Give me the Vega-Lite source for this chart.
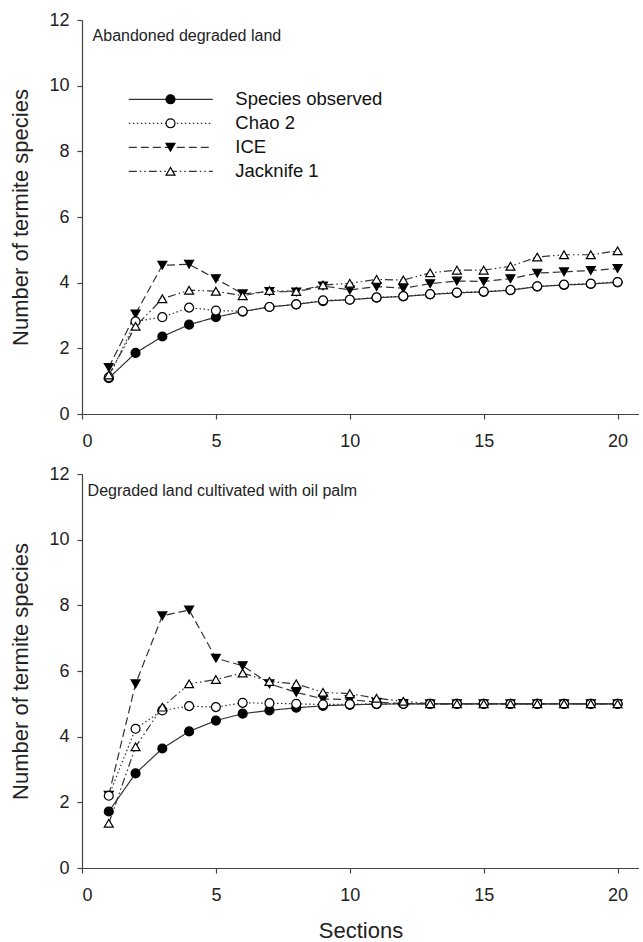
{
  "$schema": "https://vega.github.io/schema/vega-lite/v6.json",
  "padding": {"left": 9, "top": 11, "right": 0, "bottom": 0},
  "bounds": "flush",
  "spacing": 60,
  "datasets": {
    "top": [
      {"series": "Species observed", "section": 1, "value": 1.09},
      {"series": "Species observed", "section": 2, "value": 1.86},
      {"series": "Species observed", "section": 3, "value": 2.36},
      {"series": "Species observed", "section": 4, "value": 2.72},
      {"series": "Species observed", "section": 5, "value": 2.95},
      {"series": "Species observed", "section": 6, "value": 3.12},
      {"series": "Species observed", "section": 7, "value": 3.26},
      {"series": "Species observed", "section": 8, "value": 3.34},
      {"series": "Species observed", "section": 9, "value": 3.44},
      {"series": "Species observed", "section": 10, "value": 3.48},
      {"series": "Species observed", "section": 11, "value": 3.54},
      {"series": "Species observed", "section": 12, "value": 3.58},
      {"series": "Species observed", "section": 13, "value": 3.64},
      {"series": "Species observed", "section": 14, "value": 3.69},
      {"series": "Species observed", "section": 15, "value": 3.72},
      {"series": "Species observed", "section": 16, "value": 3.77},
      {"series": "Species observed", "section": 17, "value": 3.88},
      {"series": "Species observed", "section": 18, "value": 3.93},
      {"series": "Species observed", "section": 19, "value": 3.96},
      {"series": "Species observed", "section": 20, "value": 4.01},
      {"series": "ICE", "section": 1, "value": 1.42},
      {"series": "ICE", "section": 2, "value": 3.05},
      {"series": "ICE", "section": 3, "value": 4.53},
      {"series": "ICE", "section": 4, "value": 4.56},
      {"series": "ICE", "section": 5, "value": 4.12},
      {"series": "ICE", "section": 6, "value": 3.66},
      {"series": "ICE", "section": 7, "value": 3.73},
      {"series": "ICE", "section": 8, "value": 3.72},
      {"series": "ICE", "section": 9, "value": 3.9},
      {"series": "ICE", "section": 10, "value": 3.78},
      {"series": "ICE", "section": 11, "value": 3.88},
      {"series": "ICE", "section": 12, "value": 3.83},
      {"series": "ICE", "section": 13, "value": 3.97},
      {"series": "ICE", "section": 14, "value": 4.05},
      {"series": "ICE", "section": 15, "value": 4.04},
      {"series": "ICE", "section": 16, "value": 4.12},
      {"series": "ICE", "section": 17, "value": 4.29},
      {"series": "ICE", "section": 18, "value": 4.33},
      {"series": "ICE", "section": 19, "value": 4.37},
      {"series": "ICE", "section": 20, "value": 4.43},
      {"series": "Chao 2", "section": 1, "value": 1.12},
      {"series": "Chao 2", "section": 2, "value": 2.82},
      {"series": "Chao 2", "section": 3, "value": 2.95},
      {"series": "Chao 2", "section": 4, "value": 3.24},
      {"series": "Chao 2", "section": 5, "value": 3.15},
      {"series": "Chao 2", "section": 6, "value": 3.13},
      {"series": "Chao 2", "section": 7, "value": 3.26},
      {"series": "Chao 2", "section": 8, "value": 3.34},
      {"series": "Chao 2", "section": 9, "value": 3.46},
      {"series": "Chao 2", "section": 10, "value": 3.48},
      {"series": "Chao 2", "section": 11, "value": 3.55},
      {"series": "Chao 2", "section": 12, "value": 3.59},
      {"series": "Chao 2", "section": 13, "value": 3.65},
      {"series": "Chao 2", "section": 14, "value": 3.7},
      {"series": "Chao 2", "section": 15, "value": 3.73},
      {"series": "Chao 2", "section": 16, "value": 3.78},
      {"series": "Chao 2", "section": 17, "value": 3.89},
      {"series": "Chao 2", "section": 18, "value": 3.94},
      {"series": "Chao 2", "section": 19, "value": 3.97},
      {"series": "Chao 2", "section": 20, "value": 4.02},
      {"series": "Jacknife 1", "section": 1, "value": 1.19},
      {"series": "Jacknife 1", "section": 2, "value": 2.67},
      {"series": "Jacknife 1", "section": 3, "value": 3.51},
      {"series": "Jacknife 1", "section": 4, "value": 3.77},
      {"series": "Jacknife 1", "section": 5, "value": 3.74},
      {"series": "Jacknife 1", "section": 6, "value": 3.6},
      {"series": "Jacknife 1", "section": 7, "value": 3.76},
      {"series": "Jacknife 1", "section": 8, "value": 3.73},
      {"series": "Jacknife 1", "section": 9, "value": 3.93},
      {"series": "Jacknife 1", "section": 10, "value": 3.98},
      {"series": "Jacknife 1", "section": 11, "value": 4.1},
      {"series": "Jacknife 1", "section": 12, "value": 4.08},
      {"series": "Jacknife 1", "section": 13, "value": 4.3},
      {"series": "Jacknife 1", "section": 14, "value": 4.38},
      {"series": "Jacknife 1", "section": 15, "value": 4.38},
      {"series": "Jacknife 1", "section": 16, "value": 4.5},
      {"series": "Jacknife 1", "section": 17, "value": 4.78},
      {"series": "Jacknife 1", "section": 18, "value": 4.85},
      {"series": "Jacknife 1", "section": 19, "value": 4.85},
      {"series": "Jacknife 1", "section": 20, "value": 4.97}
    ],
    "bottom": [
      {"series": "Species observed", "section": 1, "value": 1.72},
      {"series": "Species observed", "section": 2, "value": 2.88},
      {"series": "Species observed", "section": 3, "value": 3.64},
      {"series": "Species observed", "section": 4, "value": 4.16},
      {"series": "Species observed", "section": 5, "value": 4.49},
      {"series": "Species observed", "section": 6, "value": 4.7},
      {"series": "Species observed", "section": 7, "value": 4.8},
      {"series": "Species observed", "section": 8, "value": 4.88},
      {"series": "Species observed", "section": 9, "value": 4.94},
      {"series": "Species observed", "section": 10, "value": 4.97},
      {"series": "Species observed", "section": 11, "value": 4.99},
      {"series": "Species observed", "section": 12, "value": 5.0},
      {"series": "Species observed", "section": 13, "value": 5.0},
      {"series": "Species observed", "section": 14, "value": 5.0},
      {"series": "Species observed", "section": 15, "value": 5.0},
      {"series": "Species observed", "section": 16, "value": 5.0},
      {"series": "Species observed", "section": 17, "value": 5.0},
      {"series": "Species observed", "section": 18, "value": 5.0},
      {"series": "Species observed", "section": 19, "value": 5.0},
      {"series": "Species observed", "section": 20, "value": 5.0},
      {"series": "ICE", "section": 1, "value": 2.22},
      {"series": "ICE", "section": 2, "value": 5.61},
      {"series": "ICE", "section": 3, "value": 7.68},
      {"series": "ICE", "section": 4, "value": 7.86},
      {"series": "ICE", "section": 5, "value": 6.39},
      {"series": "ICE", "section": 6, "value": 6.16},
      {"series": "ICE", "section": 7, "value": 5.61},
      {"series": "ICE", "section": 8, "value": 5.35},
      {"series": "ICE", "section": 9, "value": 5.15},
      {"series": "ICE", "section": 10, "value": 5.13},
      {"series": "ICE", "section": 11, "value": 5.05},
      {"series": "ICE", "section": 12, "value": 5.01},
      {"series": "ICE", "section": 13, "value": 5.0},
      {"series": "ICE", "section": 14, "value": 5.0},
      {"series": "ICE", "section": 15, "value": 5.0},
      {"series": "ICE", "section": 16, "value": 5.0},
      {"series": "ICE", "section": 17, "value": 5.0},
      {"series": "ICE", "section": 18, "value": 5.0},
      {"series": "ICE", "section": 19, "value": 5.0},
      {"series": "ICE", "section": 20, "value": 5.0},
      {"series": "Chao 2", "section": 1, "value": 2.2},
      {"series": "Chao 2", "section": 2, "value": 4.24},
      {"series": "Chao 2", "section": 3, "value": 4.8},
      {"series": "Chao 2", "section": 4, "value": 4.93},
      {"series": "Chao 2", "section": 5, "value": 4.9},
      {"series": "Chao 2", "section": 6, "value": 5.03},
      {"series": "Chao 2", "section": 7, "value": 5.02},
      {"series": "Chao 2", "section": 8, "value": 5.0},
      {"series": "Chao 2", "section": 9, "value": 4.98},
      {"series": "Chao 2", "section": 10, "value": 4.99},
      {"series": "Chao 2", "section": 11, "value": 5.0},
      {"series": "Chao 2", "section": 12, "value": 5.0},
      {"series": "Chao 2", "section": 13, "value": 5.0},
      {"series": "Chao 2", "section": 14, "value": 5.0},
      {"series": "Chao 2", "section": 15, "value": 5.0},
      {"series": "Chao 2", "section": 16, "value": 5.0},
      {"series": "Chao 2", "section": 17, "value": 5.0},
      {"series": "Chao 2", "section": 18, "value": 5.0},
      {"series": "Chao 2", "section": 19, "value": 5.0},
      {"series": "Chao 2", "section": 20, "value": 5.0},
      {"series": "Jacknife 1", "section": 1, "value": 1.36},
      {"series": "Jacknife 1", "section": 2, "value": 3.69},
      {"series": "Jacknife 1", "section": 3, "value": 4.9},
      {"series": "Jacknife 1", "section": 4, "value": 5.61},
      {"series": "Jacknife 1", "section": 5, "value": 5.74},
      {"series": "Jacknife 1", "section": 6, "value": 5.94},
      {"series": "Jacknife 1", "section": 7, "value": 5.68},
      {"series": "Jacknife 1", "section": 8, "value": 5.61},
      {"series": "Jacknife 1", "section": 9, "value": 5.35},
      {"series": "Jacknife 1", "section": 10, "value": 5.31},
      {"series": "Jacknife 1", "section": 11, "value": 5.17},
      {"series": "Jacknife 1", "section": 12, "value": 5.08},
      {"series": "Jacknife 1", "section": 13, "value": 5.0},
      {"series": "Jacknife 1", "section": 14, "value": 5.0},
      {"series": "Jacknife 1", "section": 15, "value": 5.0},
      {"series": "Jacknife 1", "section": 16, "value": 5.0},
      {"series": "Jacknife 1", "section": 17, "value": 5.0},
      {"series": "Jacknife 1", "section": 18, "value": 5.0},
      {"series": "Jacknife 1", "section": 19, "value": 5.0},
      {"series": "Jacknife 1", "section": 20, "value": 5.0}
    ]
  },
  "resolve": {"scale": {"strokeDash": "independent", "shape": "independent", "fill": "independent", "stroke": "independent"}},
  "vconcat": [
    {
      "data": {"name": "top"},
      "width": 557,
      "height": 394,
      "title": {"text": "Abandoned degraded land", "anchor": "start", "frame": "group", "offset": 0, "dx": 10.6, "dy": 46, "baseline": "alphabetic", "fontSize": 16, "font": "Liberation Sans", "fontWeight": "normal", "color": "#222"},
      "encoding": {
        "x": {"field": "section", "type": "quantitative", "scale": {"domain": [0, 20.8], "nice": false}, "axis": {"values": [0, 5, 10, 15, 20], "title": null}},
        "y": {"field": "value", "type": "quantitative", "scale": {"domain": [0, 12], "nice": false}, "axis": {"values": [0, 2, 4, 6, 8, 10, 12], "title": "Number of termite species"}}
      },
      "layer": [
        {
          "mark": {"type": "line", "color": "#333", "strokeWidth": 1.2},
          "encoding": {
            "strokeDash": {"field": "series", "type": "nominal", "sort": ["Species observed", "Chao 2", "ICE", "Jacknife 1"],
              "scale": {"range": [[1, 0], [1.5, 2.5], [8, 4], [8, 3, 1.5, 3, 1.5, 3]]},
              "legend": {"title": null, "orient": "none", "legendX": 45.8, "legendY": 67.4, "symbolType": "stroke", "symbolSize": 7056, "symbolStrokeWidth": 1.2, "symbolStrokeColor": "#333", "clipHeight": 23.8, "rowPadding": 0, "padding": 0, "labelOffset": 21.5, "labelFontSize": 18.5, "labelFont": "Liberation Sans", "labelColor": "#111", "labelLimit": 300, "zindex": 1}}
          }
        },
        {
          "mark": {"type": "point", "filled": true, "strokeWidth": 1.2, "size": 80, "opacity": 1},
          "encoding": {
            "shape": {"field": "series", "type": "nominal", "scale": {"domain": ["Species observed", "Chao 2", "ICE", "Jacknife 1"], "range": ["circle", "circle", "triangle-down", "triangle-up"]},
              "legend": {"title": null, "orient": "none", "legendX": 83, "legendY": 67.4, "symbolSize": 80, "symbolStrokeWidth": 1.2, "clipHeight": 23.8, "rowPadding": 0, "padding": 0, "labelExpr": "''", "zindex": 2}},
            "fill": {"field": "series", "type": "nominal", "scale": {"domain": ["Species observed", "Chao 2", "ICE", "Jacknife 1"], "range": ["black", "white", "black", "white"]},
              "legend": {"title": null, "orient": "none", "legendX": 83, "legendY": 67.4, "symbolSize": 80, "symbolStrokeWidth": 1.2, "clipHeight": 23.8, "rowPadding": 0, "padding": 0, "labelExpr": "''", "zindex": 2}},
            "stroke": {"field": "series", "type": "nominal", "scale": {"domain": ["Species observed", "Chao 2", "ICE", "Jacknife 1"], "range": ["black", "black", "black", "black"]},
              "legend": {"title": null, "orient": "none", "legendX": 83, "legendY": 67.4, "symbolSize": 80, "symbolStrokeWidth": 1.2, "clipHeight": 23.8, "rowPadding": 0, "padding": 0, "labelExpr": "''", "zindex": 2}}
          }
        }
      ]
    },
    {
      "data": {"name": "bottom"},
      "width": 557,
      "height": 394,
      "title": {"text": "Degraded land cultivated with oil palm", "anchor": "start", "frame": "group", "offset": 0, "dx": 5.6, "dy": 47, "baseline": "alphabetic", "fontSize": 16, "font": "Liberation Sans", "fontWeight": "normal", "color": "#222"},
      "encoding": {
        "x": {"field": "section", "type": "quantitative", "scale": {"domain": [0, 20.8], "nice": false}, "axis": {"values": [0, 5, 10, 15, 20], "title": "Sections"}},
        "y": {"field": "value", "type": "quantitative", "scale": {"domain": [0, 12], "nice": false}, "axis": {"values": [0, 2, 4, 6, 8, 10, 12], "title": "Number of termite species"}}
      },
      "layer": [
        {
          "mark": {"type": "line", "color": "#333", "strokeWidth": 1.2},
          "encoding": {
            "strokeDash": {"field": "series", "type": "nominal", "sort": ["Species observed", "Chao 2", "ICE", "Jacknife 1"],
              "scale": {"range": [[1, 0], [1.5, 2.5], [8, 4], [8, 3, 1.5, 3, 1.5, 3]]}, "legend": null}
          }
        },
        {
          "mark": {"type": "point", "filled": true, "strokeWidth": 1.2, "size": 80, "opacity": 1},
          "encoding": {
            "shape": {"field": "series", "type": "nominal", "scale": {"domain": ["Species observed", "Chao 2", "ICE", "Jacknife 1"], "range": ["circle", "circle", "triangle-down", "triangle-up"]}, "legend": null},
            "fill": {"field": "series", "type": "nominal", "scale": {"domain": ["Species observed", "Chao 2", "ICE", "Jacknife 1"], "range": ["black", "white", "black", "white"]}, "legend": null},
            "stroke": {"field": "series", "type": "nominal", "scale": {"domain": ["Species observed", "Chao 2", "ICE", "Jacknife 1"], "range": ["black", "black", "black", "black"]}, "legend": null}
          }
        }
      ]
    }
  ],
  "config": {
    "view": {"stroke": null},
    "axis": {"domainColor": "#444", "tickColor": "#444", "labelColor": "#222", "titleColor": "#222", "labelFont": "Liberation Sans", "titleFont": "Liberation Sans", "labelFontSize": 18, "titleFontSize": 22, "titleFontWeight": "normal", "grid": false, "tickSize": 5, "domainWidth": 1.2, "tickWidth": 1.2},
    "axisX": {"labelPadding": 13, "titlePadding": 16},
    "axisY": {"labelPadding": 8, "titlePadding": 16}
  }
}
